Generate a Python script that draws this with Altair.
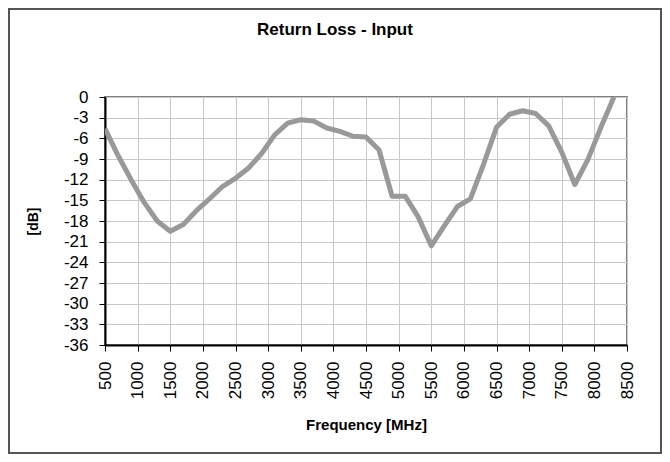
import altair as alt
import pandas as pd

freq_mhz = [500, 700, 900, 1100, 1300, 1500, 1700, 1900, 2100, 2300, 2500, 2700,
            2900, 3100, 3300, 3500, 3700, 3900, 4100, 4300, 4500, 4700, 4900, 5100,
            5300, 5500, 5700, 5900, 6100, 6300, 6500, 6700, 6900, 7100, 7300, 7500,
            7700, 7900, 8100, 8300]
return_loss_db = [-4.6, -8.5, -12.0, -15.3, -18.0, -19.5, -18.5, -16.5, -14.8, -13.0, -11.8, -10.3,
                  -8.2, -5.5, -3.8, -3.3, -3.5, -4.5, -5.0, -5.7, -5.8, -7.7, -14.4, -14.4,
                  -17.4, -21.6, -18.7, -15.9, -14.8, -9.8, -4.4, -2.5, -2.0, -2.4, -4.2, -8.0,
                  -12.7, -9.1, -4.4, 0.0]

x_ticks = list(range(500, 8501, 500))
y_ticks = list(range(-36, 1, 3))

df = pd.DataFrame({"freq": freq_mhz, "rl": return_loss_db})

FONT = "Liberation Sans"

line = alt.Chart(df).mark_line(color="#999999", strokeWidth=5, clip=True,
                               strokeJoin="round").encode(
    x=alt.X("freq:Q",
            scale=alt.Scale(domain=[500, 8500], nice=False, zero=False),
            axis=alt.Axis(values=x_ticks, title="Frequency [MHz]",
                          labelAngle=-90, labelAlign="right", labelBaseline="middle",
                          labelExpr="'' + datum.value",
                          labelFontSize=17, labelFont=FONT, labelColor="#000000",
                          labelPadding=10, tickSize=6, tickColor="#000000",
                          domainColor="#000000", domainWidth=2,
                          gridColor="#c8c8c8", gridWidth=1,
                          titleFont=FONT, titleFontSize=15, titleFontWeight="bold",
                          titleColor="#000000", titleY=84, titleBaseline="alphabetic",
                          labelOverlap=False)),
    y=alt.Y("rl:Q",
            scale=alt.Scale(domain=[-36, 0], nice=False, zero=False),
            axis=alt.Axis(values=y_ticks, title="[dB]",
                          labelExpr="'' + datum.value",
                          labelFontSize=17, labelFont=FONT, labelColor="#000000",
                          labelPadding=11, tickSize=6, tickColor="#000000",
                          domainColor="#000000", domainWidth=2,
                          gridColor="#c8c8c8", gridWidth=1,
                          titleFont=FONT, titleFontSize=14, titleFontWeight="bold",
                          titleColor="#000000", titleX=-72, titleY=124,
                          titleAngle=270, titleAlign="center", titleBaseline="middle",
                          labelOverlap=False)),
)

title = alt.Chart(alt.Data(values=[{"t": "Return Loss - Input"}])).mark_text(
    font=FONT, fontSize=17, fontWeight="bold", color="#000000",
    align="center", baseline="alphabetic").encode(
    text="t:N", x=alt.value(230), y=alt.value(-62))

frame = alt.Chart(alt.Data(values=[{"a": 1}])).mark_rect(
    fill=None, stroke="#555555", strokeWidth=2, clip=False).encode(
    x=alt.value(-96), x2=alt.value(556), y=alt.value(-88), y2=alt.value(356))

chart = alt.layer(line, title, frame).properties(
    width=522, height=248,
    autosize=alt.AutoSizeParams(type="none"),
    padding={"left": 97, "top": 89, "right": 35, "bottom": 109},
    background="#ffffff",
).configure_view(stroke="#808080", strokeWidth=2)

chart.save("out.html", embed_options={"renderer": "svg", "actions": False})
